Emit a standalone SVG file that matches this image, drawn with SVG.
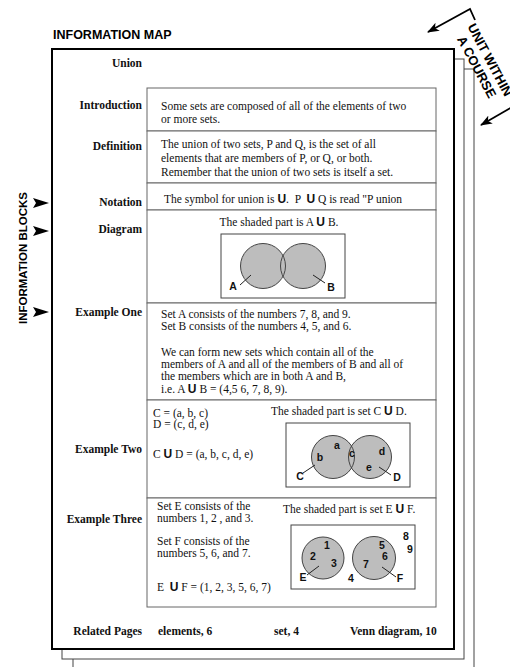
<svg xmlns="http://www.w3.org/2000/svg" width="510" height="667" viewBox="0 0 510 667">
<defs>
<marker id="ah" viewBox="0 0 12 9" refX="11" refY="4.5" markerWidth="12" markerHeight="9" markerUnits="userSpaceOnUse" orient="auto">
<path d="M0,0 L12,4.5 L0,9 L3,4.5 z" fill="#000"/>
</marker>
</defs>
<style>
.hdr{font-family:"Liberation Sans",Arial,sans-serif;font-weight:bold;fill:#000}
.lbl{font-family:"Liberation Serif","Times New Roman",serif;font-weight:bold;font-size:11.5px;fill:#111}
.txt{font-family:"Liberation Serif","Times New Roman",serif;font-size:11.5px;fill:#111;white-space:pre}
.u{font-family:"Liberation Sans",Arial,sans-serif;font-weight:bold;font-size:12px}
.sl{font-family:"Liberation Sans",Arial,sans-serif;font-weight:bold;font-size:10.5px;fill:#111}
.box{fill:#fff;stroke:#666;stroke-width:1}
.vbox{fill:#fff;stroke:#444;stroke-width:1}
.cf{fill:#bdbdbd;stroke:none}
.cs{fill:none;stroke:#444;stroke-width:1}
.ptr{stroke:#222;stroke-width:1}
.page{fill:#fff;stroke:#444;stroke-width:1}
</style>
<rect width="510" height="667" fill="#fff"/>
<g id="pages">
<rect class="page" x="73" y="69" width="401" height="620"/>
<rect class="page" x="62" y="59" width="402" height="600"/>
<rect x="52" y="49" width="402" height="600" fill="#fff" stroke="#000" stroke-width="2"/>
</g>
<text class="hdr" x="53" y="39" font-size="12.5">INFORMATION MAP</text>
<text class="hdr" font-size="11.5" text-anchor="middle" transform="translate(27,258) rotate(-90)">INFORMATION BLOCKS</text>
<g class="hdr" font-size="13" text-anchor="middle" transform="translate(486,62) rotate(62)">
<text x="0" y="0">UNIT WITHIN</text>
<text x="0" y="15">A COURSE</text>
</g>
<g id="connectors">
<polygon points="33,198 49,203 33,208 36,203" fill="#000"/>
<polygon points="33,226 49,231 33,236 36,231" fill="#000"/>
<polygon points="33,307 49,312 33,317 36,312" fill="#000"/>
<polyline points="475,20 470,9 428,32" fill="none" stroke="#000" stroke-width="1.8" marker-end="url(#ah)"/>
<line x1="514" y1="106" x2="481" y2="125" stroke="#000" stroke-width="1.8" marker-end="url(#ah)"/>
</g>
<g id="title-union">
<text class="lbl" x="142" y="67" text-anchor="end">Union</text>
</g>
<g id="introduction">
<rect class="box" x="147" y="88" width="289" height="43"/>
<text class="lbl" x="142" y="109" text-anchor="end">Introduction</text>
<text class="txt" x="161" y="110">Some sets are composed of all of the elements of two</text>
<text class="txt" x="161" y="123">or more sets.</text>
</g>
<g id="definition">
<rect class="box" x="147" y="131" width="289" height="52"/>
<text class="lbl" x="142" y="150" text-anchor="end">Definition</text>
<text class="txt" x="161" y="148">The union of two sets, P and Q, is the set of all</text>
<text class="txt" x="161" y="162">elements that are members of P, or Q, or both.</text>
<text class="txt" x="161" y="175.5">Remember that the union of two sets is itself a set.</text>
</g>
<g id="notation">
<rect class="box" x="147" y="183" width="289" height="27"/>
<text class="lbl" x="142" y="206" text-anchor="end">Notation</text>
<text class="txt" x="164" y="203">The symbol for union is <tspan class="u">U</tspan>.  P  <tspan class="u">U</tspan> Q is read "P union</text>
</g>
<g id="diagram">
<rect class="box" x="147" y="210" width="289" height="93"/>
<text class="lbl" x="142" y="233" text-anchor="end">Diagram</text>
<text class="txt" x="279" y="225.5" text-anchor="middle">The shaded part is A <tspan class="u">U</tspan> B.</text>
<rect class="vbox" x="221" y="234" width="124" height="64"/>
<circle class="cf" cx="263" cy="266" r="22.5"/>
<circle class="cf" cx="303" cy="266" r="22.5"/>
<circle class="cs" cx="263" cy="266" r="22.5"/>
<circle class="cs" cx="303" cy="266" r="22.5"/>
<line class="ptr" x1="240" y1="285" x2="251" y2="275"/>
<line class="ptr" x1="313" y1="275" x2="325" y2="283"/>
<text class="sl" x="233" y="290" text-anchor="middle">A</text>
<text class="sl" x="331" y="290.5" text-anchor="middle">B</text>
</g>
<g id="example-one">
<rect class="box" x="147" y="303" width="289" height="97"/>
<text class="lbl" x="142" y="316" text-anchor="end">Example One</text>
<text class="txt" x="161" y="318">Set A consists of the numbers 7, 8, and 9.</text>
<text class="txt" x="161" y="330">Set B consists of the numbers 4, 5, and 6.</text>
<text class="txt" x="161" y="356">We can form new sets which contain all of the</text>
<text class="txt" x="161" y="368">members of A and all of the members of B and all of</text>
<text class="txt" x="161" y="380">the members which are in both A and B,</text>
<text class="txt" x="161" y="393">i.e. A <tspan class="u">U</tspan> B = (4,5 6, 7, 8, 9).</text>
</g>
<g id="example-two">
<rect class="box" x="147" y="400" width="289" height="98"/>
<text class="lbl" x="142" y="453" text-anchor="end">Example Two</text>
<text class="txt" x="153" y="416.5">C = (a, b, c)</text>
<text class="txt" x="153" y="428">D = (c, d, e)</text>
<text class="txt" x="153" y="458">C <tspan class="u">U</tspan> D = (a, b, c, d, e)</text>
<text class="txt" x="271" y="415">The shaded part is set C <tspan class="u">U</tspan> D.</text>
<rect class="vbox" x="286" y="423" width="124" height="64"/>
<circle class="cf" cx="333" cy="457" r="21.5"/>
<circle class="cf" cx="370" cy="457" r="21.5"/>
<circle class="cs" cx="333" cy="457" r="21.5"/>
<circle class="cs" cx="370" cy="457" r="21.5"/>
<line class="ptr" x1="303" y1="473" x2="315" y2="465"/>
<line class="ptr" x1="379" y1="467" x2="391" y2="475"/>
<text class="sl" x="337" y="448.5" text-anchor="middle">a</text>
<text class="sl" x="320" y="461" text-anchor="middle">b</text>
<text class="sl" x="352" y="457" text-anchor="middle">c</text>
<text class="sl" x="382" y="455" text-anchor="middle">d</text>
<text class="sl" x="369" y="470.5" text-anchor="middle">e</text>
<text class="sl" x="300" y="480" text-anchor="middle">C</text>
<text class="sl" x="397" y="480.5" text-anchor="middle">D</text>
</g>
<g id="example-three">
<rect class="box" x="147" y="498" width="289" height="109"/>
<text class="lbl" x="142" y="523" text-anchor="end">Example Three</text>
<text class="txt" x="157" y="510">Set E consists of the</text>
<text class="txt" x="157" y="521.5">numbers 1, 2 , and 3.</text>
<text class="txt" x="157" y="545">Set F consists of the</text>
<text class="txt" x="157" y="556.5">numbers 5, 6, and 7.</text>
<text class="txt" x="157" y="591">E  <tspan class="u">U</tspan> F = (1, 2, 3, 5, 6, 7)</text>
<text class="txt" x="283" y="513">The shaded part is set E <tspan class="u">U</tspan> F.</text>
<rect class="vbox" x="291" y="525" width="124" height="64"/>
<circle class="cf" cx="323" cy="558" r="21"/>
<circle class="cf" cx="374" cy="558" r="21.5"/>
<circle class="cs" cx="323" cy="558" r="21"/>
<circle class="cs" cx="374" cy="558" r="21.5"/>
<line class="ptr" x1="307" y1="575" x2="319" y2="566"/>
<line class="ptr" x1="382" y1="567" x2="396" y2="577"/>
<text class="sl" x="327" y="548.5" text-anchor="middle">1</text>
<text class="sl" x="313" y="560" text-anchor="middle">2</text>
<text class="sl" x="334" y="567" text-anchor="middle">3</text>
<text class="sl" x="382" y="548.5" text-anchor="middle">5</text>
<text class="sl" x="385" y="560" text-anchor="middle">6</text>
<text class="sl" x="366" y="567.5" text-anchor="middle">7</text>
<text class="sl" x="406" y="540" text-anchor="middle">8</text>
<text class="sl" x="410" y="553" text-anchor="middle">9</text>
<text class="sl" x="351" y="581.5" text-anchor="middle">4</text>
<text class="sl" x="303" y="581" text-anchor="middle">E</text>
<text class="sl" x="400" y="582" text-anchor="middle">F</text>
</g>
<g id="related-pages">
<text class="lbl" x="142" y="635" text-anchor="end">Related Pages</text>
<text class="lbl" x="158" y="635">elements, 6</text>
<text class="lbl" x="274" y="635">set, 4</text>
<text class="lbl" x="350" y="635">Venn diagram, 10</text>
</g>
</svg>
